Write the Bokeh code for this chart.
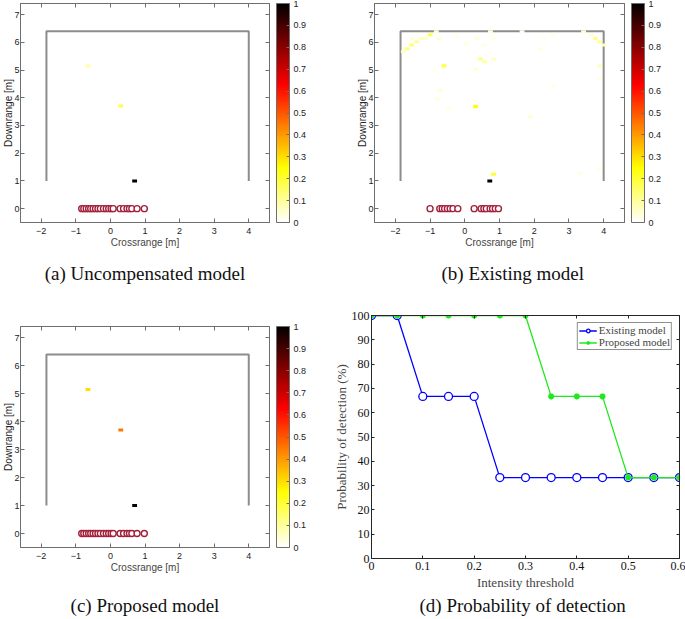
from bokeh.plotting import figure
from bokeh.models import (LinearColorMapper, ColorBar, FixedTicker, LinearAxis, Range1d,
                          CustomJSTickFormatter, Title, ColumnDataSource)
from bokeh.layouts import column, row
from bokeh.embed import file_html
from bokeh.resources import INLINE
from bokeh.transform import linear_cmap

# ---------------- data ----------------
room_x = [-1.85, -1.85, 4.0, 4.0]
room_y = [1.0, 6.4, 6.4, 1.0]

array_a_x = [-0.83, -0.77, -0.7, -0.63, -0.57, -0.5, -0.43, -0.36, -0.29, -0.2, -0.12,
             -0.05, 0.02, 0.08, 0.28, 0.38, 0.48, 0.55, 0.62, 0.77, 0.98]
array_b_x = [-1.0, -0.72, -0.65, -0.58, -0.5, -0.42, -0.34, -0.2, 0.27, 0.47, 0.55,
             0.62, 0.73, 0.8, 0.88, 0.97]

spots_a_x = [-0.65, 0.3, 0.7]
spots_a_y = [5.15, 3.7, 1.0]
spots_a_v = [0.08, 0.18, 1.0]

spots_b_x = [-1.0, -1.53, -1.39, -1.66, -1.77, -1.25, -1.13, -1.51, -0.82, -0.75, -0.6,
             0.45, 0.57, 0.83, 0.31, 0.31, 0.83, 0.72, 3.76, 3.88, 4.0, 3.42, 3.63, 3.88,
             3.88, -0.75, -0.48, 1.89, 2.56, 3.33, 3.88, 0.05, 0.35, 0.74, 0.57, 0.83,
             -0.22, 2.56, 2.29, 2.16, 1.65, -0.87, -0.8, -0.72]
spots_b_y = [6.27, 5.9, 6.02, 5.77, 5.66, 6.14, 6.14, 6.13, 6.38, 6.14, 5.15,
             5.4, 5.3, 5.39, 5.03, 3.68, 1.24, 1.0, 6.14, 6.02, 5.9, 6.38, 6.26, 5.15,
             4.67, 3.95, 3.6, 3.32, 4.43, 1.27, 1.45, 5.93, 6.14, 6.38, 5.9, 6.14,
             6.26, 6.26, 6.14, 5.77, 6.38, 5.0, 3.95, 4.27]
spots_b_v = [0.17, 0.14, 0.1, 0.12, 0.06, 0.07, 0.05, 0.04, 0.05, 0.04, 0.18,
             0.12, 0.09, 0.06, 0.04, 0.24, 0.2, 1.0, 0.12, 0.09, 0.07, 0.05, 0.04, 0.06,
             0.03, 0.03, 0.03, 0.04, 0.03, 0.03, 0.03, 0.03, 0.04, 0.04, 0.03, 0.03,
             0.02, 0.03, 0.02, 0.03, 0.02, 0.02, 0.03, 0.04]

spots_c_x = [-0.65, 0.3, 0.7]
spots_c_y = [5.15, 3.7, 1.0]
spots_c_v = [0.3, 0.45, 1.0]

x_ticks = [-2, -1, 0, 1, 2, 3, 4]
y_ticks = [0, 1, 2, 3, 4, 5, 6, 7]
cb_ticks = [0, 0.1, 0.2, 0.3, 0.4, 0.5, 0.6, 0.7, 0.8, 0.9, 1.0]

threshold = [0, 0.05, 0.1, 0.15, 0.2, 0.25, 0.3, 0.35, 0.4, 0.45, 0.5, 0.55, 0.6]
pd_existing = [100, 100, 66.7, 66.7, 66.7, 33.3, 33.3, 33.3, 33.3, 33.3, 33.3, 33.3, 33.3]
pd_proposed = [100, 100, 100, 100, 100, 100, 100, 66.7, 66.7, 66.7, 33.3, 33.3, 33.3]
pd_x_ticks = [0, 0.1, 0.2, 0.3, 0.4, 0.5, 0.6]
pd_y_ticks = [0, 10, 20, 30, 40, 50, 60, 70, 80, 90, 100]


def hot_reversed(n=256):
    n1 = int(3 * n / 8)
    cols = []
    for i in range(n):
        r = min(1.0, (i + 1) / n1)
        g = min(1.0, max(0.0, (i + 1 - n1) / n1))
        b = max(0.0, (i + 1 - 2 * n1) / (n - 2 * n1))
        cols.append('#%02x%02x%02x' % (round(r * 255), round(g * 255), round(b * 255)))
    return cols[::-1]


PALETTE = hot_reversed()
SANS = "Liberation Sans"
SERIF = "Liberation Serif"
AX_COL = "#6e6e6e"
fmt1 = CustomJSTickFormatter(code="return String(Math.round(tick*10)/10);")


def style_axis(ax, font, size, color, tick_len=4, standoff=3):
    ax.major_tick_in = tick_len
    ax.major_tick_out = 0
    ax.minor_tick_in = 0
    ax.minor_tick_out = 0
    ax.axis_line_color = color
    ax.major_tick_line_color = color
    ax.major_label_text_font = font
    ax.major_label_text_font_size = size
    ax.major_label_text_color = "#222222"
    ax.major_label_standoff = standoff


def blank_axis(ticker, color, tick_len=4, standoff=0):
    ax = LinearAxis(ticker=ticker)
    style_axis(ax, SANS, "0px", color, tick_len, standoff)
    ax.major_label_text_alpha = 0
    return ax


def spacer_axis(ticker, gap):
    ax = LinearAxis(ticker=ticker)
    style_axis(ax, SANS, "0px", "white", 0, 0)
    ax.major_tick_out = gap
    ax.major_tick_line_alpha = 0
    ax.axis_line_alpha = 0
    ax.major_label_text_alpha = 0
    return ax


def caption_title(text, align, offset):
    return Title(text=text, text_font=SERIF, text_font_size="19px",
                 text_font_style="normal", align=align, offset=offset,
                 standoff=0, text_color="#111111")


def heat_panel(width, height, left, right, top, bottom, sx, sy, sv, arr_x,
               caption, cap_align, cap_offset, cap_gap):
    p = figure(width=width, height=height, x_range=Range1d(-2.6, 4.6),
               y_range=Range1d(-0.5, 7.4), output_backend="svg", toolbar_location=None,
               min_border=0, min_border_left=left, min_border_right=right,
               min_border_top=top, min_border_bottom=bottom, frame_align=False,
               x_axis_label="Crossrange [m]")
    p.grid.visible = False
    p.outline_line_color = AX_COL
    p.background_fill_color = "white"
    p.border_fill_color = "white"
    for ax in p.xaxis:
        ax.ticker = FixedTicker(ticks=x_ticks)
        style_axis(ax, SANS, "9px", AX_COL, 4, 5)
        ax.axis_label_standoff = 0
        ax.axis_label_text_font = SANS
        ax.axis_label_text_font_size = "10px"
        ax.axis_label_text_font_style = "normal"
    for ax in p.yaxis:
        ax.ticker = FixedTicker(ticks=y_ticks)
        style_axis(ax, SANS, "9px", AX_COL, 4, 1)
    ylab = Title(text="Downrange [m]", text_font=SANS, text_font_size="10px",
                 text_font_style="normal", align="center", standoff=-4,
                 text_color="#222222")
    p.add_layout(ylab, "left")
    p.add_layout(blank_axis(FixedTicker(ticks=x_ticks), AX_COL), "above")
    p.add_layout(blank_axis(FixedTicker(ticks=y_ticks), AX_COL), "right")
    p.add_layout(spacer_axis(FixedTicker(ticks=y_ticks), 7), "right")

    p.line(room_x, room_y, line_color="#8c8c8c", line_width=2)
    src = ColumnDataSource(dict(x=sx, y=sy, v=sv))
    p.rect("x", "y", width=0.14, height=0.11, source=src, line_color=None,
           fill_color=linear_cmap("v", PALETTE, 0, 1))
    p.scatter(arr_x, [0] * len(arr_x), marker="circle", size=6, fill_color="white",
              line_color="#a3203a", line_width=1.4)

    mapper = LinearColorMapper(palette=PALETTE, low=0, high=1)
    cb = ColorBar(color_mapper=mapper, ticker=FixedTicker(ticks=cb_ticks), formatter=fmt1,
                  width=13, padding=0, margin=0, major_tick_in=3, major_tick_out=0,
                  major_tick_line_color=AX_COL, bar_line_color=AX_COL,
                  border_line_color=None, background_fill_color=None,
                  label_standoff=4, major_label_text_font=SANS,
                  major_label_text_font_size="9px", major_label_text_color="#222222")
    p.add_layout(cb, "right")

    p.add_layout(spacer_axis(FixedTicker(ticks=x_ticks), cap_gap), "below")
    p.add_layout(caption_title(caption, cap_align, cap_offset), "below")
    return p


pa = heat_panel(340, 310, 20, 71, 3, 88, spots_a_x, spots_a_y, spots_a_v, array_a_x,
                "(a) Uncompensated model", "center", 0, 10)
pb = heat_panel(345, 310, 34, 61, 3, 88, spots_b_x, spots_b_y, spots_b_v, array_b_x,
                "(b) Existing model", "left", 67, 10)
pc = heat_panel(330, 309, 20, 61, 16, 72, spots_c_x, spots_c_y, spots_c_v, array_a_x,
                "(c) Proposed model", "center", 0, 17)

# ---------------- panel (d) ----------------
PD_COL = "#262626"
pd = figure(width=355, height=309, x_range=Range1d(0, 0.6), y_range=Range1d(0, 100),
            output_backend="svg", toolbar_location=None, min_border=0, frame_align=False,
            min_border_left=40, min_border_right=6, min_border_top=5, min_border_bottom=61,
            x_axis_label="Intensity threshold", y_axis_label="Probability of detection (%)")
pd.grid.visible = False
pd.outline_line_color = PD_COL
pd.xaxis.ticker = FixedTicker(ticks=pd_x_ticks)
pd.yaxis.ticker = FixedTicker(ticks=pd_y_ticks)
pd.xaxis.formatter = fmt1
for ax in pd.xaxis:
    style_axis(ax, SERIF, "12px", PD_COL, 3, 3)
    ax.axis_label_standoff = 2
for ax in pd.yaxis:
    style_axis(ax, SERIF, "12px", PD_COL, 3, 2)
    ax.axis_label_standoff = 0
for ax in pd.xaxis + pd.yaxis:
    ax.major_label_text_color = "#111111"
    ax.axis_label_text_font = SERIF
    ax.axis_label_text_font_size = "13px"
    ax.axis_label_text_font_style = "normal"
pd.add_layout(blank_axis(FixedTicker(ticks=pd_x_ticks), PD_COL, 3), "above")
pd.add_layout(blank_axis(FixedTicker(ticks=pd_y_ticks), PD_COL, 3), "right")

BLUE = "#0000ff"
GREEN = "#1fe81f"
pd.line(threshold, pd_existing, line_color=BLUE, line_width=1.3, legend_label="Existing model")
pd.scatter(threshold, pd_existing, marker="circle", size=8, fill_color="white",
           line_color=BLUE, line_width=1.3, legend_label="Existing model")
pd.line(threshold, pd_proposed, line_color=GREEN, line_width=1.3, legend_label="Proposed model")
pd.scatter(threshold, pd_proposed, marker="asterisk", size=6, line_color=GREEN,
           line_width=2, legend_label="Proposed model")
lg = pd.legend[0]
lg.location = "top_right"
lg.margin = 7
lg.padding = 1
lg.spacing = 0
lg.glyph_height = 9
lg.glyph_width = 18
lg.label_height = 9
lg.label_standoff = 2
lg.label_text_font = SERIF
lg.label_text_font_size = "11px"
lg.border_line_color = "#222222"
lg.border_line_width = 1

pd.add_layout(caption_title("(d) Probability of detection", "left", 48), "below")

layout = column(row(pa, pb), row(pc, pd))
open("out.html", "w").write(file_html(layout, INLINE))
